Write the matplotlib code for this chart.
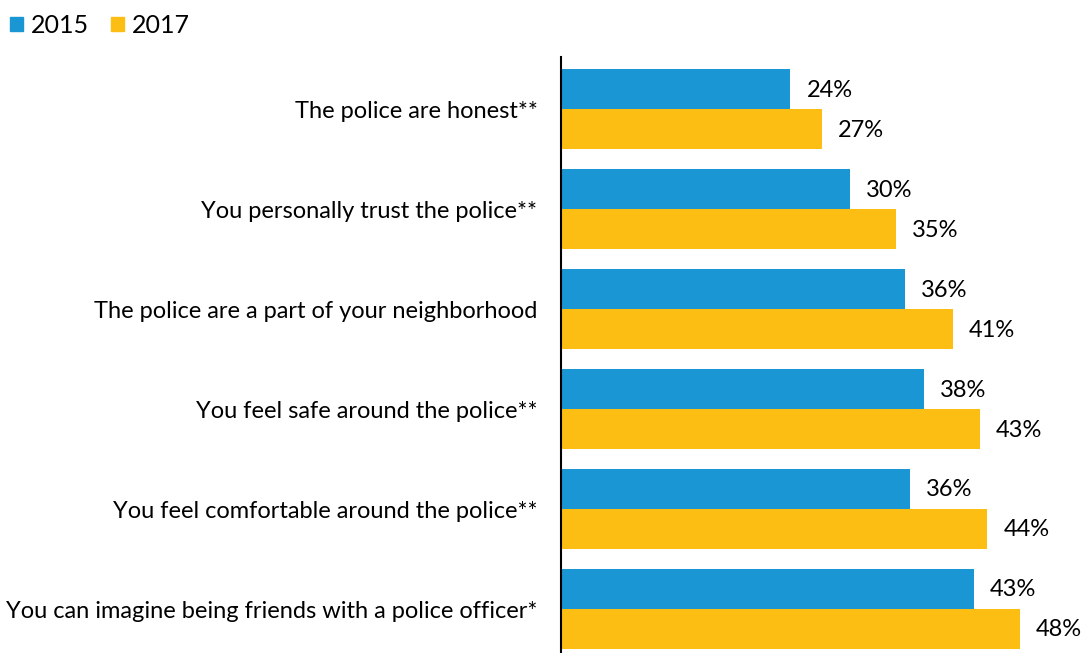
import numpy as np
import matplotlib.pyplot as plt
from matplotlib.patches import Patch

plt.rcParams['font.family'] = ['Lato', 'DejaVu Sans']

# Survey items (top to bottom) and share agreeing, in percent
items = [
    'The police are honest**',
    'You personally trust the police**',
    'The police are a part of your neighborhood',
    'You feel safe around the police**',
    'You feel comfortable around the police**',
    'You can imagine being friends with a police officer*',
]
vals_2015 = [24.0, 30.2, 36.0, 38.0, 36.5, 43.2]
vals_2017 = [27.3, 35.0, 41.0, 43.8, 44.6, 48.0]
labels_2015 = ['24%', '30%', '36%', '38%', '36%', '43%']
labels_2017 = ['27%', '35%', '41%', '43%', '44%', '48%']

blue = '#1A96D4'
yellow = '#FDBE14'

fig = plt.figure(figsize=(10.84, 6.53), dpi=100)
ax = fig.add_axes([561 / 1084, 0, 1 - 561 / 1084, 1 - 57 / 653])

y = np.arange(len(items))
h = 0.4
ax.barh(y - h / 2, vals_2015, height=h, color=blue, label='2015')
ax.barh(y + h / 2, vals_2017, height=h, color=yellow, label='2017')

# value labels right of each bar
for yi, v, t in zip(y - h / 2, vals_2015, labels_2015):
    ax.annotate(t, (v, yi + 0.01), xytext=(11.5, 0), textcoords='offset points',
                va='center', ha='left', fontsize=17, clip_on=False)
for yi, v, t in zip(y + h / 2, vals_2017, labels_2017):
    ax.annotate(t, (v, yi + 0.01), xytext=(11.5, 0), textcoords='offset points',
                va='center', ha='left', fontsize=17, clip_on=False)

ax.set_xlim(0, (1084 - 561) / 9.56)
ax.set_ylim(5.44, -0.52)
ax.set_yticks(y)
ax.set_yticklabels(items, fontsize=17)
ax.tick_params(axis='y', length=0, pad=17)
ax.set_xticks([])

for s in ['top', 'right', 'bottom']:
    ax.spines[s].set_visible(False)
ax.spines['left'].set_linewidth(1.5)
ax.spines['left'].set_color('black')

handles = [Patch(color=blue, label='2015'), Patch(color=yellow, label='2017')]
fig.legend(handles=handles, loc='upper left', bbox_to_anchor=(0.0, 0.994),
           ncol=2, frameon=False, fontsize=18, handlelength=0.5,
           handleheight=0.5, handletextpad=0.32, columnspacing=0.9,
           borderaxespad=0.0)

fig.savefig('out.png', dpi=100)
